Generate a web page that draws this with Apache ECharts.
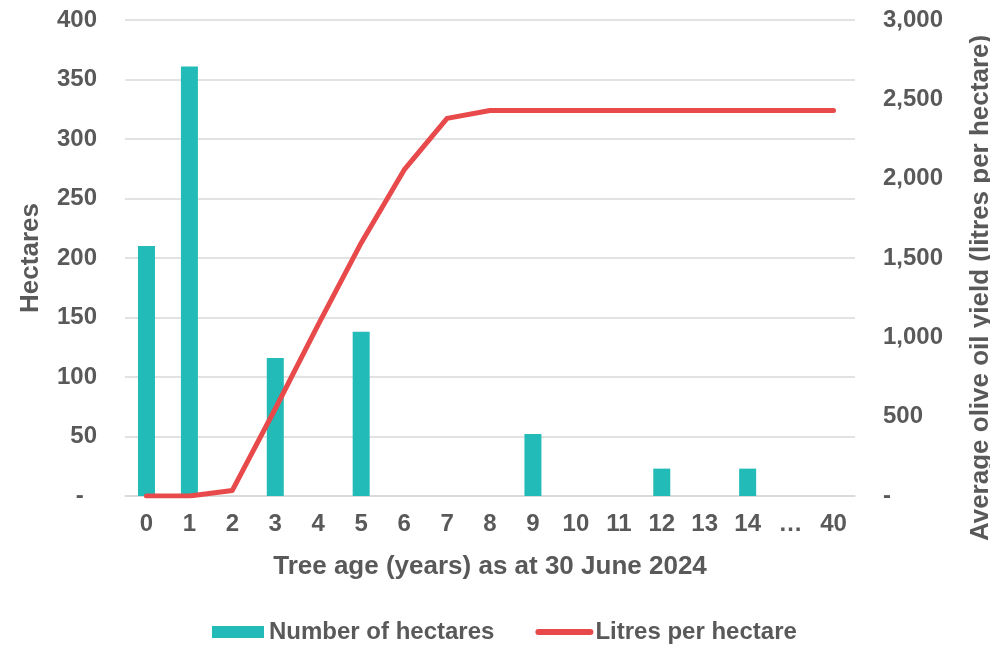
<!DOCTYPE html>
<html>
<head>
<meta charset="utf-8">
<script src="https://cdn.jsdelivr.net/npm/echarts@6/dist/echarts.min.js"></script>
<style>
html,body{margin:0;padding:0;background:#fff;}
#chart{width:990px;height:645px;}
</style>
</head>
<body>
<div id="chart"></div>
<script>
const categories = ['0','1','2','3','4','5','6','7','8','9','10','11','12','13','14','…','40'];
const hectares = [210, 361, null, 116, null, 138, null, null, null, 52, null, null, 23, null, 23, null, null];
const litresPerHectare = [0, 0, 35, 550, 1080, 1595, 2055, 2380, 2430, 2430, 2430, 2430, 2430, 2430, 2430, 2430, 2430];
const leftTicks = [0, 50, 100, 150, 200, 250, 300, 350, 400];
const rightTicks = [0, 500, 1000, 1500, 2000, 2500, 3000];

const TXT = '#595959';
const FONT = 'Liberation Sans, Arial, sans-serif';
const chart = echarts.init(document.getElementById('chart'));
chart.setOption({
  animation: false,
  textStyle: { fontFamily: FONT },
  grid: { left: 125, right: 135, top: 20, bottom: 149, containLabel: false, outerBoundsMode: 'none' },
  legend: {
    left: 207, top: 615,
    itemWidth: 52, itemHeight: 12, itemGap: 41,
    textStyle: { color: TXT, fontSize: 24, fontWeight: 'bold', fontFamily: FONT },
    data: [
      { name: 'Number of hectares', icon: 'rect' },
      { name: 'Litres per hectare', itemStyle: { opacity: 0 }, lineStyle: { width: 6, cap: 'round', color: '#E84A4C' } }
    ]
  },
  xAxis: {
    type: 'category',
    data: categories,
    axisLine: { show: true, lineStyle: { color: '#d9d9d9', width: 1.5 } },
    axisTick: { show: false },
    axisLabel: { color: TXT, fontSize: 24, fontWeight: 'bold', margin: 16, interval: 0 },
    name: 'Tree age (years) as at 30 June 2024',
    nameLocation: 'middle',
    nameGap: 58,
    nameTextStyle: { color: TXT, fontSize: 26, fontWeight: 'bold' }
  },
  yAxis: [
    {
      type: 'value', min: 0, max: 400, interval: 50,
      axisLine: { show: false }, axisTick: { show: false },
      splitLine: { lineStyle: { color: '#d9d9d9', width: 1.5 } },
      axisLabel: { color: TXT, fontSize: 24, fontWeight: 'bold', margin: 28,
        formatter: v => v === 0 ? '-  ' : String(v) },
      name: 'Hectares', nameLocation: 'middle', nameRotate: 90, nameGap: 81,
      nameTextStyle: { color: TXT, fontSize: 26, fontWeight: 'bold' }
    },
    {
      type: 'value', min: 0, max: 3000, interval: 500,
      axisLine: { show: false }, axisTick: { show: false },
      splitLine: { show: false },
      axisLabel: { color: TXT, fontSize: 24, fontWeight: 'bold', margin: 28,
        formatter: v => v === 0 ? '-' : v.toLocaleString('en-US') },
      name: 'Average olive oil yield (litres per hectare)', nameLocation: 'middle', nameRotate: 90, nameGap: 113,
      nameTextStyle: { color: TXT, fontSize: 26, fontWeight: 'bold', padding: [0, 60, 0, 0] }
    }
  ],
  series: [
    {
      name: 'Number of hectares', type: 'bar', data: hectares, yAxisIndex: 0,
      barWidth: 17, itemStyle: { color: '#22BBB8' }
    },
    {
      name: 'Litres per hectare', type: 'line', data: litresPerHectare, yAxisIndex: 1,
      symbol: 'none', lineStyle: { color: '#E84A4C', width: 5, cap: 'round', join: 'round' },
      itemStyle: { color: '#E84A4C' }
    }
  ]
});
</script>
</body>
</html>
